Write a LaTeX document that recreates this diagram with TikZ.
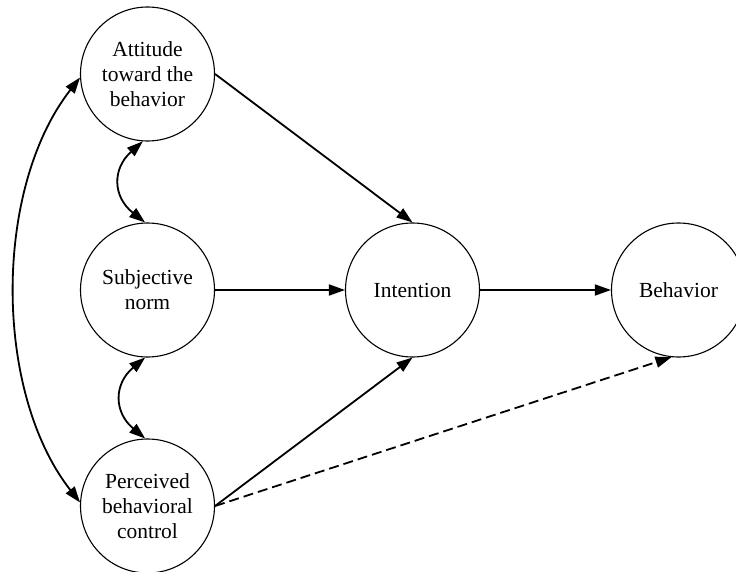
\documentclass[tikz,border=0pt]{standalone}
\usepackage{fontspec}
\setmainfont{Liberation Serif}
\usetikzlibrary{arrows.meta}
\begin{document}
\begin{tikzpicture}[x=1pt,y=-1pt,
  construct/.style={circle,draw=black,line width=1.1pt,minimum size=134pt,inner sep=0pt,
    align=center,font=\fontsize{21.5}{25}\selectfont,fill=white},
  link/.style={line width=1.8pt,-{Triangle[length=16pt,width=11pt]}},
  twoway/.style={line width=1.8pt,{Triangle[length=16pt,width=11pt]}-{Triangle[length=16pt,width=11pt]}},
  weak/.style={link,dash pattern=on 10pt off 5pt}]
\useasboundingbox (0,0) rectangle (736,572);
\fill[white] (0,0) rectangle (736,572);

% constructs of the model
\node[construct] (att) at (147.5,74)  {Attitude\\toward the\\behavior};
\node[construct] (sn)  at (147.5,290) {Subjective\\norm};
\node[construct] (pbc) at (147.5,506) {Perceived\\behavioral\\control};
\node[construct] (int) at (412.5,290) {Intention};
\node[construct] (beh) at (678.5,290) {Behavior};

% correlations among the antecedents
\draw[twoway] (att.183) to[bend right=38,looseness=0.85] (pbc.177);
\draw[twoway] (att.266) to[bend right=50,looseness=1.3] (sn.92);
\draw[twoway] (sn.268) to[bend right=50,looseness=1.3] (pbc.92);

% direct paths
\draw[link] (att.east) -- (int.north);
\draw[link] (sn.east) -- (int.west);
\draw[link] (pbc.east) -- (int.south);
\draw[link] (int.east) -- (beh.west);
\draw[weak] (pbc.east) -- (beh.264);
\end{tikzpicture}
\end{document}
